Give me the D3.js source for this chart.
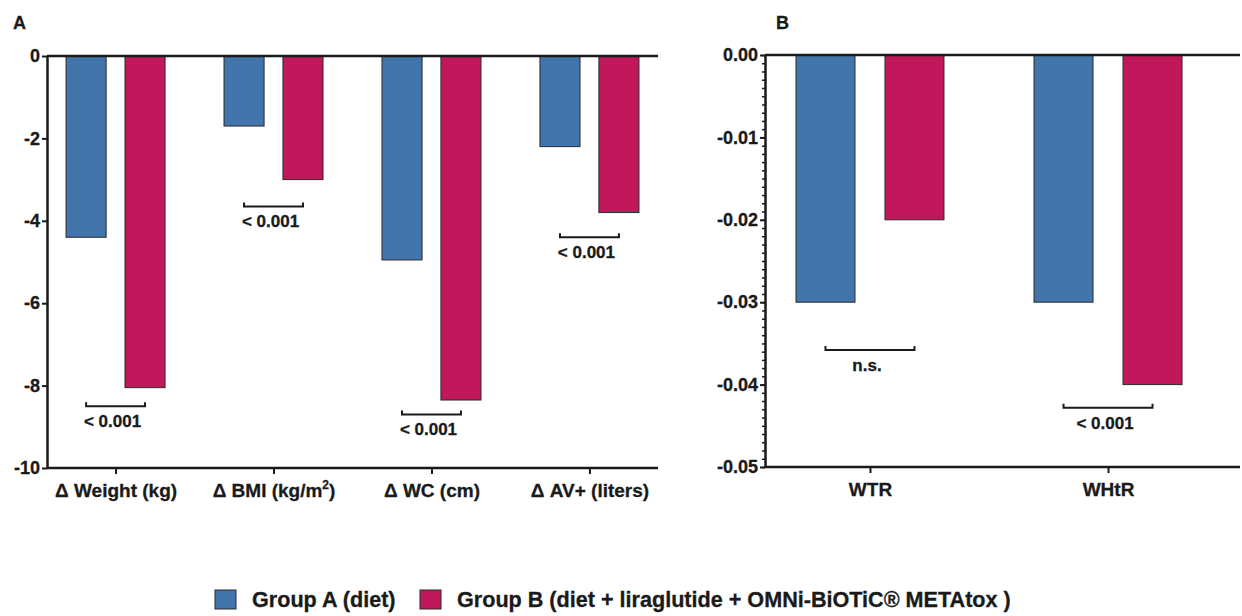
<!DOCTYPE html>
<html><head><meta charset="utf-8">
<script src="https://cdn.jsdelivr.net/npm/d3@7"></script>
<style>
html,body{margin:0;padding:0;background:#fff;}
text{font-family:"Liberation Sans",Arial,sans-serif;font-weight:bold;fill:#1a1a1a;stroke:#1a1a1a;stroke-width:0.3px;}
</style></head>
<body><svg id="c" width="1242" height="616"></svg>
<script>
// ---- data ----
const groups = ["Group A (diet)", "Group B (diet + liraglutide + OMNi-BiOTiC® METAtox )"];
const catsA = ["Δ Weight (kg)", "Δ BMI (kg/m²)", "Δ WC (cm)", "Δ AV+ (liters)"];
const groupA_A = [-4.4, -1.7, -4.95, -2.2];
const groupB_A = [-8.05, -3.0, -8.35, -3.8];
const bracketA = [-8.5, -3.65, -8.7, -4.4];
const pA = ["< 0.001", "< 0.001", "< 0.001", "< 0.001"];
const ticksA = [0, -2, -4, -6, -8, -10];

const catsB = ["WTR", "WHtR"];
const groupA_B = [-0.03, -0.03];
const groupB_B = [-0.02, -0.04];
const bracketB = [-0.0358, -0.0428];
const pB = ["n.s.", "< 0.001"];
const ticksB = [0, -0.01, -0.02, -0.03, -0.04, -0.05];

const colors = ["#4175ab", "#c0185a"];
const svg = d3.select("#c");
const ink = "#1a1a1a";
const hyph = f => v => f(v).replace("−", "-");

function panel(cfg) {
  const g = svg.append("g");
  const y = d3.scaleLinear().domain(cfg.domain).range([cfg.top, cfg.bottom]);
  const x = d3.scalePoint().domain(cfg.cats).range([cfg.left, cfg.right]).padding(cfg.pad);
  const sub = d3.scaleBand().domain([0, 1]).range([-cfg.half, cfg.half]).paddingInner(cfg.inner).paddingOuter(0);

  cfg.cats.forEach((c, i) => {
    [cfg.a[i], cfg.b[i]].forEach((v, k) => {
      g.append("rect")
        .attr("x", x(c) + sub(k))
        .attr("width", sub.bandwidth())
        .attr("y", y(0))
        .attr("height", y(v) - y(0))
        .attr("fill", colors[k])
        .attr("stroke", "#2a2a2a").attr("stroke-width", 1);
    });
    const x1 = x(c) + sub(0) + sub.bandwidth() / 2;
    const x2 = x(c) + sub(1) + sub.bandwidth() / 2;
    const yb = y(cfg.br[i]);
    g.append("path")
      .attr("d", `M${x1},${yb - 4}V${yb}H${x2}V${yb - 4}`)
      .attr("fill", "none").attr("stroke", ink).attr("stroke-width", 2);
    g.append("text").attr("x", (x1 + x2) / 2 - 3).attr("y", yb + 21)
      .attr("text-anchor", "middle").style("font-size", "17px").text(cfg.p[i]);
  });

  const ya = d3.axisLeft(y).tickValues(cfg.ticks).tickFormat(hyph(cfg.fmt)).tickSize(5).tickSizeOuter(0).tickPadding(2);
  const yg = g.append("g").attr("transform", `translate(${cfg.left},0)`).call(ya);
  yg.select(".domain").attr("stroke", ink).attr("stroke-width", 2.5);
  yg.selectAll(".tick line").attr("stroke", ink).attr("stroke-width", 2);
  yg.selectAll(".tick text").style("font-size", "18px").attr("fill", ink);
  if (cfg.minor) {
    const mg = g.append("g").attr("transform", `translate(${cfg.left},0)`)
      .call(d3.axisLeft(y).tickValues(cfg.minor).tickFormat("").tickSize(3).tickSizeOuter(0));
    mg.select(".domain").remove();
    mg.selectAll(".tick line").attr("stroke", ink).attr("stroke-width", 1.5);
  }
  g.append("line").attr("x1", cfg.left).attr("x2", cfg.lineEnd).attr("y1", y(0)).attr("y2", y(0))
    .attr("stroke", ink).attr("stroke-width", 2.5);
  const xa = d3.axisBottom(x).tickSize(6).tickSizeOuter(0).tickFormat(() => "");
  const xg = g.append("g").attr("transform", `translate(0,${cfg.bottom})`).call(xa);
  xg.select(".domain").remove();
  xg.selectAll(".tick line").attr("stroke", ink).attr("stroke-width", 2);
  g.append("line").attr("x1", cfg.left).attr("x2", cfg.lineEnd).attr("y1", cfg.bottom).attr("y2", cfg.bottom)
    .attr("stroke", ink).attr("stroke-width", 2.5);
  xg.selectAll(".tick").append("text").attr("y", 29).attr("text-anchor", "middle")
    .style("font-size", "19px").attr("fill", ink)
    .each(function (d) {
      const t = d3.select(this);
      if (d.includes("²")) {
        t.append("tspan").text(d.replace("m²)", "m"));
        t.append("tspan").attr("dy", -8).style("font-size", "12px").text("2");
        t.append("tspan").attr("dy", 8).text(")");
      } else t.text(d);
    });
  svg.append("text").attr("x", cfg.letterX).attr("y", 29).style("font-size", "18px").text(cfg.letter);
}

panel({
  cats: catsA, a: groupA_A, b: groupB_A, br: bracketA, p: pA,
  domain: [0, -10], top: 56, bottom: 468, left: 47, right: 658, lineEnd: 658,
  pad: 0.434, half: 49.5, inner: 0.32, ticks: ticksA, fmt: d3.format("d"),
  letter: "A", letterX: 13
});
panel({
  cats: catsB, a: groupA_B, b: groupB_B, br: bracketB, p: pB,
  domain: [0, -0.05], top: 55, bottom: 467, left: 765, right: 1213, lineEnd: 1240,
  pad: 0.441, half: 74, inner: 0.337, ticks: ticksB, fmt: d3.format(".2f"),
  minor: d3.range(0, 51).map(i => -i / 1000),
  letter: "B", letterX: 776
});

const lg = svg.append("g");
const legX = [215, 420];
groups.forEach((name, k) => {
  lg.append("rect").attr("x", legX[k]).attr("y", 590).attr("width", 21).attr("height", 19)
    .attr("fill", colors[k]).attr("stroke", "#2a2a2a").attr("stroke-width", 1);
  lg.append("text").attr("x", legX[k] + 37).attr("y", 607).style("font-size", "21.6px").text(name);
});
</script></body></html>
